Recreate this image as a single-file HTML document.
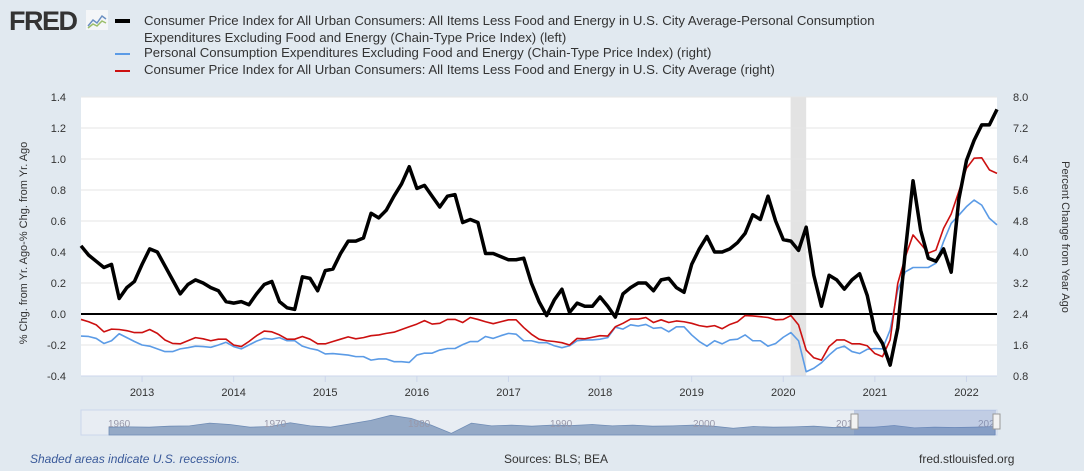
<!DOCTYPE html>
<html><head><meta charset="utf-8"><style>
body{margin:0;width:1084px;height:471px;background:#e1e9f0;font-family:"Liberation Sans",sans-serif;overflow:hidden;position:relative}
.leg{position:absolute;left:144px;font-size:13.2px;color:#333;white-space:nowrap}
.sw{position:absolute;left:115px;width:15px;height:3px}
</style></head><body>
<div style="position:absolute;left:9px;top:6px;font:bold 27px 'Liberation Sans',sans-serif;color:#333;letter-spacing:-1.5px">FRED</div>
<svg style="position:absolute;left:86px;top:10px" width="22" height="20"><rect width="22" height="20" fill="#f4f6f8"/><polyline points="2,16 7,10 11,13 16,6 20,9" fill="none" stroke="#6a8fc2" stroke-width="1.5"/><polyline points="2,18 7,14 11,16 16,11 20,13" fill="none" stroke="#9bbf6a" stroke-width="1.5"/></svg>
<div class="sw" style="top:19px;background:#000;height:4px"></div>
<div class="leg" style="top:12px;line-height:17px">Consumer Price Index for All Urban Consumers: All Items Less Food and Energy in U.S. City Average-Personal Consumption<br>Expenditures Excluding Food and Energy (Chain-Type Price Index) (left)</div>
<div class="sw" style="top:53px;background:#5b9be6;height:2px"></div>
<div class="leg" style="top:45px">Personal Consumption Expenditures Excluding Food and Energy (Chain-Type Price Index) (right)</div>
<div class="sw" style="top:70px;background:#cc1010;height:2px"></div>
<div class="leg" style="top:62px">Consumer Price Index for All Urban Consumers: All Items Less Food and Energy in U.S. City Average (right)</div>
<svg id="chart" width="1084" height="471" style="position:absolute;left:0;top:0"></svg>
<div style="position:absolute;left:30px;top:452px;font-size:12px;font-style:italic;color:#3a5a9a">Shaded areas indicate U.S. recessions.</div>
<div style="position:absolute;left:504px;top:452px;font-size:12px;color:#333">Sources: BLS; BEA</div>
<div style="position:absolute;left:919px;top:452px;font-size:12px;color:#333">fred.stlouisfed.org</div>
<script>
const spreadValues=[0.44,0.38,0.34,0.30,0.32,0.10,0.17,0.21,0.32,0.42,0.40,0.31,0.22,0.13,0.19,0.22,0.20,0.17,0.15,0.08,0.07,0.08,0.06,0.13,0.19,0.21,0.08,0.04,0.03,0.24,0.23,0.15,0.28,0.29,0.39,0.47,0.47,0.49,0.65,0.62,0.67,0.76,0.84,0.95,0.81,0.83,0.76,0.69,0.76,0.77,0.59,0.61,0.59,0.39,0.39,0.37,0.35,0.35,0.36,0.20,0.08,-0.01,0.09,0.16,0.01,0.07,0.05,0.05,0.11,0.05,-0.02,0.13,0.17,0.20,0.20,0.15,0.22,0.23,0.17,0.14,0.32,0.42,0.50,0.40,0.40,0.42,0.46,0.52,0.64,0.61,0.76,0.60,0.48,0.47,0.41,0.56,0.25,0.05,0.25,0.22,0.16,0.22,0.26,0.12,-0.11,-0.19,-0.33,-0.09,0.41,0.86,0.54,0.36,0.34,0.42,0.27,0.74,0.99,1.12,1.22,1.22,1.32];
const cpiValues=[2.26,2.20,2.12,1.94,2.01,2.00,1.97,1.92,1.92,2.00,1.90,1.73,1.64,1.63,1.71,1.79,1.76,1.71,1.75,1.75,1.60,1.56,1.69,1.84,1.96,1.94,1.86,1.75,1.75,1.82,1.75,1.63,1.63,1.69,1.75,1.81,1.76,1.79,1.84,1.86,1.90,1.93,2.00,2.07,2.14,2.23,2.14,2.16,2.26,2.26,2.18,2.31,2.26,2.20,2.15,2.20,2.25,2.25,2.05,1.88,1.75,1.71,1.69,1.66,1.60,1.77,1.76,1.80,1.84,1.83,2.07,2.16,2.27,2.27,2.31,2.18,2.25,2.18,2.22,2.20,2.16,2.10,2.07,2.10,2.02,2.13,2.20,2.36,2.35,2.33,2.31,2.25,2.26,2.36,2.12,1.47,1.27,1.21,1.56,1.73,1.73,1.63,1.63,1.58,1.38,1.30,1.73,3.19,3.88,4.44,4.21,3.97,4.05,4.61,4.98,5.56,6.16,6.42,6.43,6.12,6.03];
const pceValues=[1.83,1.82,1.77,1.64,1.71,1.89,1.79,1.69,1.60,1.57,1.50,1.43,1.43,1.50,1.53,1.57,1.56,1.54,1.60,1.67,1.56,1.50,1.60,1.70,1.77,1.75,1.79,1.71,1.71,1.57,1.51,1.47,1.37,1.38,1.36,1.34,1.30,1.30,1.21,1.24,1.24,1.17,1.17,1.15,1.34,1.39,1.39,1.47,1.51,1.51,1.61,1.69,1.69,1.82,1.77,1.84,1.90,1.88,1.71,1.71,1.66,1.66,1.58,1.53,1.58,1.71,1.73,1.73,1.75,1.79,2.06,2.01,2.12,2.09,2.13,2.03,2.05,1.94,2.07,2.07,1.86,1.69,1.57,1.71,1.63,1.73,1.75,1.86,1.71,1.71,1.57,1.64,1.80,1.92,1.71,0.91,1.00,1.14,1.34,1.51,1.57,1.43,1.38,1.49,1.51,1.50,1.99,3.02,3.49,3.60,3.60,3.60,3.71,4.27,4.74,4.95,5.17,5.34,5.21,4.87,4.70];
const leftTicks=[-0.4,-0.2,0.0,0.2,0.4,0.6,0.8,1.0,1.2,1.4];
const rightTicks=[0.8,1.6,2.4,3.2,4.0,4.8,5.6,6.4,7.2,8.0];
const yearLabels=[2013,2014,2015,2016,2017,2018,2019,2020,2021,2022];
const recession=[2020.08,2020.25];
const startYear=2012+4/12, monthCount=120;
const navValues=[2.0,2.1,2.0,2.3,2.4,3.2,2.8,2.0,2.2,3.3,2.4,2.0,3.0,4.0,5.5,4.6,2.6,0.2,3.2,2.4,2.6,2.3,2.6,2.5,2.8,2.4,2.6,2.3,2.4,2.6,2.3,1.7,2.2,2.0,2.1,2.3,1.9,2.0,2.0,2.5,1.8,2.0,1.9,2.0,2.2];
const L=81,R=997,T=97,B=376;
const svg=document.getElementById('chart');const NS='http://www.w3.org/2000/svg';
function xm(i){return L+(R-L)*i/monthCount}
function xy(y){return xm((y-startYear)*12)}
function yl(v){return B-(v+0.4)/1.8*(B-T)}
function yr(v){return B-(v-0.8)/7.2*(B-T)}
function mk(tag,at){const e=document.createElementNS(NS,tag);for(const k in at)e.setAttribute(k,at[k]);svg.appendChild(e);return e}
const bg=mk('rect',{x:L,y:T,width:R-L,height:B-T,fill:'#fff'});


const rec=mk('rect',{x:xy(recession[0]),y:T,width:xy(recession[1])-xy(recession[0]),height:B-T,fill:'#e3e3e3'});


leftTicks.forEach((v,k)=>{
 const g=mk('line',{x1:L,x2:R,y1:yl(v),y2:yl(v),stroke:'#e6e6e6','stroke-width':1});
 
 
 const t=mk('text',{x:66,y:yl(v)+4,'text-anchor':'end','font-size':11,fill:'#333'});t.textContent=v.toFixed(1);
 
 
});
rightTicks.forEach(v=>{
 const t=mk('text',{x:1013,y:yr(v)+4,'font-size':11,fill:'#333'});t.textContent=v.toFixed(1);
 
 
});
yearLabels.forEach(y=>{
 const x=xy(y);
 const tk=mk('line',{x1:x,x2:x,y1:B,y2:B+6,stroke:'#ccd6eb'});
 
 
 const t=mk('text',{x:x,y:396,'text-anchor':'middle','font-size':11,fill:'#333'});t.textContent=y;
 
 
});
const ax=mk('line',{x1:L,x2:R,y1:B,y2:B,stroke:'#ccd6eb'});


const zl=mk('line',{x1:L,x2:R,y1:yl(0),y2:yl(0),stroke:'#000','stroke-width':2});


function line(vals,f,col,w,name){
 const p=mk('polyline',{points:vals.map((v,i)=>xm(i)+','+f(v)).join(' '),fill:'none',stroke:col,'stroke-width':w,'stroke-linejoin':'round'});
 
 
}
line(pceValues,yr,'#5b9be6',1.6,'pce-line');
line(cpiValues,yr,'#cc1010',1.6,'cpi-line');
line(spreadValues,yl,'#000',3.5,'spread-line');
const ytl=mk('text',{transform:'translate(27,243) rotate(-90)','text-anchor':'middle','font-size':11,fill:'#333'});ytl.textContent='% Chg. from Yr. Ago-% Chg. from Yr. Ago';


const ytr=mk('text',{transform:'translate(1062,237) rotate(90)','text-anchor':'middle','font-size':11,fill:'#333'});ytr.textContent='Percent Change from Year Ago';


const nv=mk('rect',{x:L,y:410,width:R-L,height:25,fill:'#e8edf3',stroke:'#ccd6eb'});


const nx0=109,nx1=995;
function nx(i){return nx0+(nx1-nx0)*i/(navValues.length-1)}
function ny(v){return 434-v*3.4}
const na=mk('path',{d:'M'+nx0+',435 '+navValues.map((v,i)=>'L'+nx(i)+','+ny(v)).join(' ')+' L'+nx1+',435Z',fill:'#94a9c6',stroke:'#6f8cb5','stroke-width':0.8});


[[1960,110],[1970,266],[1980,410],[1990,552],[2000,695],[2010,838],[2020,980]].forEach(a=>{
 const t=mk('text',{x:a[1]-2,y:427,'font-size':10,fill:'#99a'});t.textContent=a[0];
 
 
});
const sel=mk('rect',{x:854,y:410,width:142,height:25,fill:'rgba(102,133,194,0.3)'});


[854,996].forEach(x=>{
 const h=mk('rect',{x:x-3,y:414,width:7,height:15,fill:'#f2f2f2',stroke:'#999'});
 
 
});
</script>
</body></html>
